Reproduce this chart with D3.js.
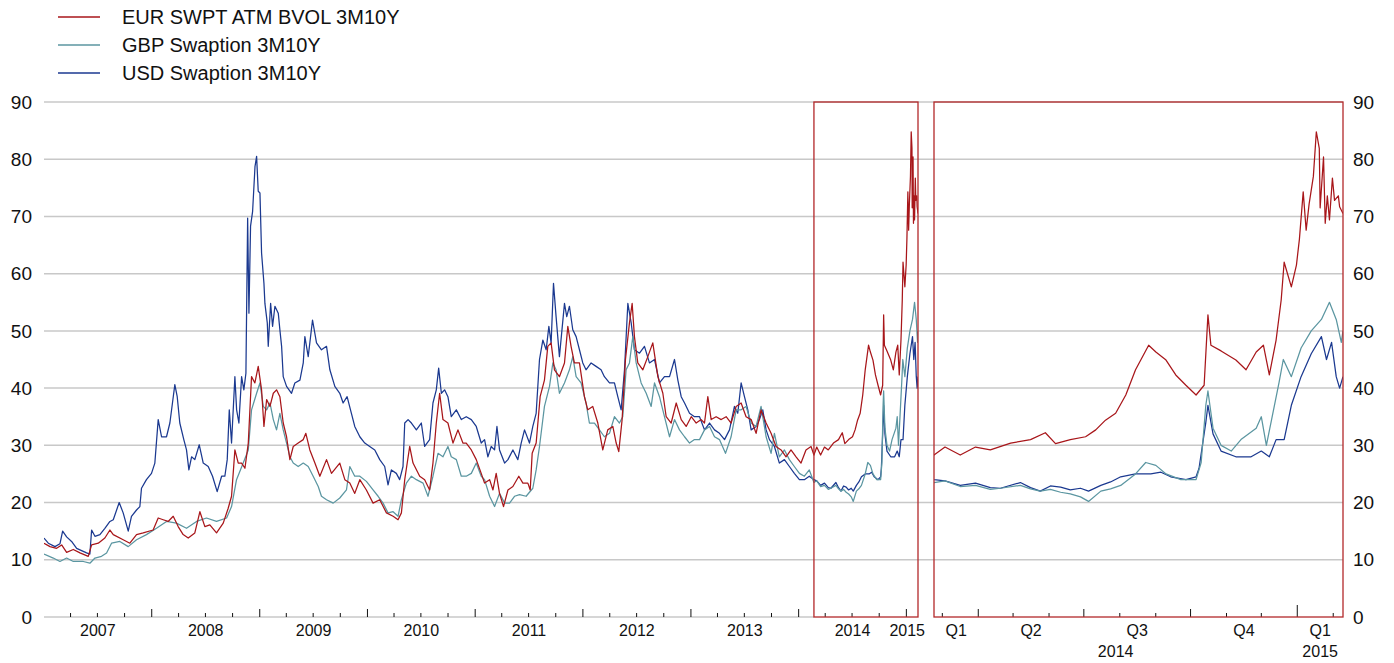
<!DOCTYPE html>
<html><head><meta charset="utf-8">
<script src="https://cdn.jsdelivr.net/npm/d3@7"></script>
<style>
html,body{margin:0;padding:0;background:#fff;}
svg{display:block;font-family:"Liberation Sans",Arial,sans-serif;}
</style></head>
<body><svg id="c" width="1394" height="663"></svg>
<script>
// ---- data (decimal year, value) ----
const seriesNames = ["EUR SWPT ATM BVOL 3M10Y","GBP Swaption 3M10Y","USD Swaption 3M10Y"];
const yTicks = [0,10,20,30,40,50,60,70,80,90];
const yearLabels = ["2007","2008","2009","2010","2011","2012","2013","2014","2015"];
const quarterLabels = ["Q1","Q2","Q3","Q4"];

const usdData = [
[2007.000,13.8],[2007.040,12.9],[2007.102,12.3],[2007.148,12.8],[2007.173,15.0],[2007.210,14.0],[2007.256,13.2],[2007.303,12.0],[2007.349,11.6],[2007.395,11.2],[2007.426,11.0],[2007.442,15.2],[2007.473,14.1],[2007.519,14.4],[2007.565,15.5],[2007.612,16.7],[2007.643,17.0],[2007.698,20.0],[2007.735,18.2],[2007.782,15.0],[2007.812,17.6],[2007.859,18.7],[2007.890,19.3],[2007.905,22.5],[2007.951,24.0],[2007.998,25.1],[2008.029,26.9],[2008.060,34.5],[2008.091,31.5],[2008.137,31.5],[2008.168,33.9],[2008.192,37.4],[2008.214,40.6],[2008.236,38.5],[2008.260,33.9],[2008.297,31.0],[2008.322,29.2],[2008.344,25.7],[2008.369,28.0],[2008.399,27.5],[2008.440,30.1],[2008.477,26.9],[2008.523,26.3],[2008.563,24.6],[2008.606,21.9],[2008.647,24.6],[2008.677,24.6],[2008.699,27.5],[2008.718,36.2],[2008.739,30.4],[2008.770,42.0],[2008.786,36.2],[2008.807,33.9],[2008.832,42.0],[2008.853,39.7],[2008.872,42.6],[2008.888,69.7],[2008.900,53.1],[2008.915,68.3],[2008.934,70.9],[2008.956,78.7],[2008.971,80.5],[2008.986,74.4],[2009.002,74.1],[2009.017,63.6],[2009.039,58.3],[2009.048,54.8],
[2009.070,51.4],[2009.079,47.3],[2009.101,54.8],[2009.119,50.8],[2009.141,54.3],[2009.172,53.1],[2009.187,50.2],[2009.203,47.3],[2009.218,42.0],[2009.249,40.3],[2009.295,39.1],[2009.326,40.9],[2009.373,41.4],[2009.404,44.4],[2009.419,49.0],[2009.450,45.5],[2009.490,51.9],[2009.527,47.9],[2009.573,46.7],[2009.620,47.3],[2009.651,43.2],[2009.697,40.3],[2009.743,39.1],[2009.774,37.4],[2009.811,38.5],[2009.851,35.6],[2009.882,33.3],[2009.929,31.5],[2009.975,30.4],[2010.021,29.8],[2010.068,29.2],[2010.114,27.5],[2010.160,26.3],[2010.191,23.1],[2010.222,25.7],[2010.268,25.1],[2010.299,24.0],[2010.330,26.3],[2010.346,33.9],[2010.377,34.5],[2010.408,33.9],[2010.454,32.7],[2010.500,33.9],[2010.531,29.8],[2010.577,31.0],[2010.608,37.4],[2010.639,39.7],[2010.661,43.5],[2010.686,39.1],[2010.716,39.7],[2010.747,38.5],[2010.778,35.0],[2010.825,36.2],[2010.871,34.5],[2010.917,35.0],[2010.964,34.5],[2011.010,33.3],[2011.056,30.4],[2011.087,31.0],
[2011.118,28.0],[2011.149,29.8],[2011.180,29.2],[2011.202,33.3],[2011.226,29.2],[2011.273,26.9],[2011.304,27.5],[2011.350,29.2],[2011.396,27.5],[2011.427,30.4],[2011.458,32.7],[2011.504,30.4],[2011.535,33.3],[2011.566,35.6],[2011.597,45.0],[2011.628,48.4],[2011.659,46.7],[2011.684,50.8],[2011.705,47.9],[2011.727,58.3],[2011.751,52.5],[2011.782,45.5],[2011.829,54.8],[2011.850,52.5],[2011.875,54.3],[2011.906,50.2],[2011.937,49.0],[2011.968,46.7],[2011.999,44.4],[2012.029,43.2],[2012.076,44.4],[2012.122,43.8],[2012.168,43.2],[2012.199,42.0],[2012.246,40.9],[2012.292,40.9],[2012.323,38.5],[2012.354,36.2],[2012.385,43.2],[2012.416,54.8],[2012.447,51.4],[2012.477,46.7],[2012.524,46.1],[2012.570,47.3],[2012.616,44.4],[2012.663,45.0],[2012.709,40.9],[2012.755,42.0],[2012.802,42.0],[2012.848,45.0],[2012.879,41.4],[2012.910,38.5],[2012.941,37.4],[2012.987,35.6],[2013.033,35.0],[2013.080,35.0],
[2013.126,32.7],[2013.173,33.9],[2013.219,32.7],[2013.265,32.1],[2013.312,31.0],[2013.358,32.7],[2013.404,36.8],[2013.435,35.6],[2013.466,40.9],[2013.497,38.5],[2013.528,36.2],[2013.559,32.7],[2013.605,33.3],[2013.636,34.5],[2013.667,36.2],[2013.698,32.7],[2013.729,31.0],[2013.775,29.8],[2013.821,26.9],[2013.868,27.5],[2013.914,26.3],[2013.960,25.1],[2014.007,24.0],[2014.053,24.0],[2014.099,24.6],
[2014.142,24.0],[2014.168,23.8],[2014.204,23.0],[2014.240,23.4],[2014.275,22.6],[2014.299,22.5],[2014.346,23.5],[2014.370,22.6],[2014.393,22.0],[2014.417,22.9],[2014.441,22.7],[2014.464,22.2],[2014.488,22.5],[2014.507,22.0],[2014.536,23.0],[2014.559,23.6],[2014.583,24.5],[2014.618,25.0],[2014.654,25.0],[2014.678,25.3],[2014.701,24.5],[2014.737,24.0],[2014.761,24.5],[2014.768,26.0],[2014.784,34.0],[2014.789,37.0],[2014.801,32.0],[2014.820,29.0],[2014.855,28.0],[2014.891,28.0],[2014.915,29.0],[2014.934,28.0],[2014.950,31.0],[2014.969,31.0],[2014.986,37.0],[2015.009,42.0],[2015.033,46.0],[2015.057,49.0],[2015.069,45.0],[2015.081,48.0],[2015.092,42.0],[2015.100,40.0],[2015.108,42.0]
];

const eurData = [
[2007.000,12.9],[2007.056,12.3],[2007.117,12.0],[2007.164,12.6],[2007.210,11.3],[2007.272,11.8],[2007.334,11.2],[2007.411,10.6],[2007.442,12.6],[2007.504,12.9],[2007.565,13.8],[2007.612,15.2],[2007.643,14.4],[2007.735,13.5],[2007.797,12.9],[2007.859,14.4],[2007.921,14.7],[2008.013,15.2],[2008.060,17.3],[2008.106,17.0],[2008.152,16.7],[2008.199,17.6],[2008.245,15.8],[2008.291,14.4],[2008.338,13.8],[2008.399,14.7],[2008.446,18.4],[2008.492,15.8],[2008.538,16.1],[2008.600,14.7],[2008.662,16.4],[2008.708,19.0],[2008.739,21.1],[2008.770,29.2],[2008.801,26.9],[2008.832,26.9],[2008.863,26.0],[2008.894,30.4],[2008.924,42.0],[2008.955,40.9],[2008.986,43.8],[2009.017,39.7],[2009.039,33.3],
[2009.064,38.0],[2009.095,36.8],[2009.126,39.1],[2009.156,39.7],[2009.187,38.5],[2009.218,33.9],[2009.249,31.5],[2009.280,27.5],[2009.311,29.8],[2009.357,30.4],[2009.404,31.0],[2009.428,32.1],[2009.465,29.2],[2009.512,26.9],[2009.558,24.6],[2009.620,27.5],[2009.666,25.1],[2009.743,26.9],[2009.790,24.0],[2009.836,23.4],[2009.882,21.6],[2009.929,24.0],[2009.990,22.2],[2010.052,19.9],[2010.114,20.5],[2010.176,18.2],[2010.238,17.6],[2010.284,17.0],[2010.315,18.2],[2010.346,24.0],[2010.392,29.8],[2010.423,26.9],[2010.485,24.6],[2010.531,24.0],[2010.577,22.2],[2010.608,26.9],[2010.639,33.9],[2010.670,39.1],[2010.701,34.5],[2010.747,33.9],[2010.794,30.4],[2010.840,32.7],[2010.886,30.4],[2010.917,30.4],[2010.964,29.2],[2011.010,27.5],[2011.056,25.1],[2011.087,23.4],
[2011.134,24.0],[2011.165,22.2],[2011.195,25.1],[2011.226,21.6],[2011.263,19.3],[2011.304,22.2],[2011.350,22.8],[2011.405,24.6],[2011.443,23.4],[2011.489,23.4],[2011.511,22.2],[2011.529,28.6],[2011.566,30.4],[2011.603,38.5],[2011.643,41.4],[2011.674,47.3],[2011.705,47.9],[2011.736,43.2],[2011.782,42.0],[2011.829,44.4],[2011.860,50.8],[2011.890,47.3],[2011.921,44.4],[2011.968,44.4],[2012.014,38.5],[2012.045,36.2],[2012.091,36.8],[2012.138,33.9],[2012.184,29.2],[2012.230,32.7],[2012.277,33.3],[2012.308,30.4],[2012.332,28.9],[2012.363,34.5],[2012.394,45.0],[2012.431,51.4],[2012.456,54.8],[2012.477,49.0],[2012.508,44.4],[2012.555,43.2],[2012.601,45.5],[2012.647,47.9],[2012.694,42.0],[2012.740,39.1],[2012.771,35.0],[2012.817,33.9],[2012.864,37.4],[2012.910,34.5],[2012.956,33.3],[2013.003,35.0],[2013.049,33.9],[2013.095,34.5],
[2013.126,33.9],[2013.157,38.5],[2013.188,34.5],[2013.234,35.0],[2013.281,34.5],[2013.327,35.0],[2013.373,33.9],[2013.420,36.8],[2013.466,37.4],[2013.512,35.0],[2013.559,34.5],[2013.605,32.1],[2013.651,36.2],[2013.698,33.9],[2013.744,32.1],[2013.790,29.8],[2013.837,29.2],[2013.883,28.0],[2013.929,29.2],[2013.976,28.0],[2014.022,26.9],[2014.068,29.2],[2014.115,29.8],
[2014.142,28.3],[2014.168,29.7],[2014.204,28.3],[2014.240,29.7],[2014.275,29.2],[2014.323,30.4],[2014.370,31.0],[2014.405,32.2],[2014.429,30.3],[2014.464,31.0],[2014.500,31.5],[2014.524,32.7],[2014.547,34.4],[2014.571,35.6],[2014.595,38.8],[2014.618,43.2],[2014.649,47.5],[2014.666,46.3],[2014.690,44.9],[2014.713,42.3],[2014.737,40.5],[2014.761,38.8],[2014.780,40.5],[2014.789,52.8],[2014.796,47.5],[2014.820,46.5],[2014.855,44.9],[2014.879,43.2],[2014.903,46.3],[2014.920,47.5],[2014.934,42.3],[2014.950,48.4],[2014.962,55.4],[2014.969,62.0],[2014.986,57.7],[2014.998,61.5],[2015.005,66.0],[2015.014,74.3],[2015.021,67.6],[2015.028,72.2],[2015.038,77.0],[2015.045,84.8],[2015.052,81.9],[2015.054,71.5],[2015.062,80.4],[2015.066,68.8],[2015.071,73.6],[2015.076,69.4],[2015.083,76.7],[2015.088,72.8],[2015.097,73.6],[2015.100,71.7],[2015.108,70.5]
];

const gbpData = [
[2007.000,11.0],[2007.086,10.3],[2007.148,9.7],[2007.210,10.3],[2007.272,9.7],[2007.365,9.7],[2007.426,9.4],[2007.473,10.3],[2007.534,10.6],[2007.581,11.2],[2007.627,12.9],[2007.704,13.2],[2007.782,12.3],[2007.859,13.5],[2007.951,14.4],[2008.044,15.5],[2008.137,16.7],[2008.229,16.4],[2008.322,15.5],[2008.415,16.7],[2008.507,17.3],[2008.600,16.7],[2008.693,17.3],[2008.739,19.3],[2008.785,24.0],[2008.847,26.9],[2008.894,29.2],[2008.924,36.2],[2008.971,39.1],[2009.002,40.9],[2009.033,36.8],
[2009.064,36.2],[2009.095,37.4],[2009.126,34.5],[2009.156,32.7],[2009.187,35.6],[2009.218,32.7],[2009.249,30.4],[2009.280,28.0],[2009.311,26.9],[2009.357,26.3],[2009.404,26.9],[2009.450,26.3],[2009.496,24.6],[2009.543,22.8],[2009.573,21.1],[2009.620,20.5],[2009.682,19.9],[2009.743,20.8],[2009.805,22.2],[2009.836,26.3],[2009.882,24.6],[2009.929,24.6],[2009.990,23.7],[2010.052,22.2],[2010.099,21.1],[2010.145,19.9],[2010.191,18.2],[2010.238,18.4],[2010.284,17.6],[2010.315,20.5],[2010.361,23.4],[2010.408,24.6],[2010.454,24.0],[2010.516,23.4],[2010.562,21.1],[2010.608,24.6],[2010.655,28.6],[2010.701,28.0],[2010.747,29.8],[2010.778,28.0],[2010.825,27.5],[2010.871,24.6],[2010.917,24.6],[2010.964,25.1],[2011.010,26.9],[2011.056,24.6],[2011.087,24.0],
[2011.134,21.1],[2011.180,19.3],[2011.226,21.6],[2011.273,19.9],[2011.319,19.9],[2011.365,21.1],[2011.412,21.4],[2011.473,21.1],[2011.535,22.5],[2011.566,25.7],[2011.597,29.8],[2011.643,36.8],[2011.690,40.3],[2011.721,44.4],[2011.751,43.2],[2011.782,39.1],[2011.829,40.9],[2011.875,43.2],[2011.906,45.5],[2011.937,42.0],[2011.983,40.9],[2012.029,37.4],[2012.060,33.9],[2012.107,33.9],[2012.153,32.7],[2012.199,31.5],[2012.246,32.1],[2012.292,35.0],[2012.338,33.9],[2012.369,35.0],[2012.400,43.2],[2012.431,44.4],[2012.462,49.0],[2012.493,44.4],[2012.539,40.9],[2012.586,39.1],[2012.632,36.8],[2012.663,40.9],[2012.709,38.5],[2012.755,35.0],[2012.802,31.5],[2012.848,34.5],[2012.894,32.7],[2012.941,31.5],[2012.987,30.4],[2013.033,31.0],[2013.080,31.0],
[2013.126,32.7],[2013.173,33.3],[2013.219,31.5],[2013.265,31.0],[2013.321,28.6],[2013.373,31.5],[2013.420,36.2],[2013.466,36.2],[2013.512,36.8],[2013.559,33.9],[2013.605,33.3],[2013.651,36.8],[2013.698,31.5],[2013.744,28.6],[2013.775,32.1],[2013.821,28.0],[2013.868,29.2],[2013.914,27.5],[2013.960,26.3],[2014.007,25.1],[2014.053,24.6],[2014.099,25.7],
[2014.142,23.5],[2014.168,23.8],[2014.204,22.8],[2014.240,23.0],[2014.275,22.3],[2014.299,22.5],[2014.346,23.0],[2014.370,22.4],[2014.393,22.0],[2014.417,22.3],[2014.441,21.8],[2014.464,21.5],[2014.488,21.0],[2014.507,20.2],[2014.536,22.0],[2014.559,22.4],[2014.583,23.0],[2014.618,25.0],[2014.642,27.0],[2014.666,26.5],[2014.690,25.0],[2014.725,24.0],[2014.761,24.0],[2014.773,27.0],[2014.784,37.0],[2014.789,39.5],[2014.801,33.0],[2014.820,30.0],[2014.844,29.0],[2014.867,31.0],[2014.903,33.0],[2014.915,35.0],[2014.927,30.0],[2014.938,34.0],[2014.957,41.0],[2014.967,45.0],[2014.986,42.0],[2015.009,47.0],[2015.033,50.0],[2015.057,52.0],[2015.076,55.0],[2015.092,52.0],[2015.104,48.0],[2015.108,50.0]
];

const colors = ["#a8161a","#5b96a1","#1b3990"];
const allSeries = [usdData, gbpData, eurData];
const drawColors = [colors[2], colors[1], colors[0]];

// ---- helpers ----
function dy(t){ const y=Math.floor(t); const s=Date.UTC(y,0,1), e=Date.UTC(y+1,0,1); return new Date(s+(t-y)*(e-s)); }

const svg = d3.select("#c");
const W = 1394, H = 663;
const yScale = d3.scaleLinear().domain([0,90]).range([617,102]);
const xL = d3.scaleUtc().domain([dy(2007), dy(2015.108)]).range([44, 918]);
const xR = d3.scaleUtc().domain([dy(2014.142), dy(2015.108)]).range([934, 1343]);
const boxStart = dy(2014.142);
const red = "#b3282a";

// gridlines
const gridX0 = xL.range()[0], gridX1 = xR.range()[1];
svg.append("g").selectAll("line").data(yTicks.filter(d=>d>0)).join("line")
  .attr("x1", gridX0).attr("x2", gridX1)
  .attr("y1", d=>yScale(d)).attr("y2", d=>yScale(d))
  .attr("stroke","#c8c8c8").attr("stroke-width",1.5);
// baseline (left panel)
svg.append("line").attr("x1",gridX0).attr("x2",xL(boxStart)).attr("y1",yScale(0)).attr("y2",yScale(0))
  .attr("stroke","#c8c8c8").attr("stroke-width",1.5);

// y labels
svg.append("g").selectAll("text").data(yTicks).join("text")
  .attr("x", 32).attr("y", d=>yScale(d)).attr("dy","0.35em")
  .attr("text-anchor","end").attr("font-size",19).attr("fill","#111").text(d=>d);
svg.append("g").selectAll("text").data(yTicks).join("text")
  .attr("x", 1353).attr("y", d=>yScale(d)).attr("dy","0.35em")
  .attr("text-anchor","start").attr("font-size",19).attr("fill","#111").text(d=>d);

// clip paths
const defs = svg.append("defs");
defs.append("clipPath").attr("id","clipL").append("rect")
  .attr("x",xL.range()[0]).attr("y",0).attr("width",xL.range()[1]-xL.range()[0]).attr("height",H);
defs.append("clipPath").attr("id","clipR").append("rect")
  .attr("x",xR.range()[0]).attr("y",0).attr("width",xR.range()[1]-xR.range()[0]).attr("height",H);

function drawLines(xs, clip){
  const g = svg.append("g").attr("clip-path",`url(#${clip})`);
  allSeries.forEach((s,i)=>{
    const line = d3.line().x(d=>xs(dy(d[0]))).y(d=>yScale(d[1]));
    g.append("path").datum(s).attr("d",line).attr("fill","none")
      .attr("stroke",drawColors[i]).attr("stroke-width",1.25).attr("stroke-linejoin","round");
  });
}
drawLines(xL,"clipL");
drawLines(xR,"clipR");

// ticks left panel (quarterly, taller on years)
const qL = d3.utcMonth.every(3).range(dy(2007), dy(2015.108));
svg.append("g").selectAll("line").data(qL.filter(d=>+d>+dy(2007))).join("line")
  .attr("x1",d=>xL(d)).attr("x2",d=>xL(d))
  .attr("y1",yScale(0)).attr("y2",d=>yScale(0)-(d.getUTCMonth()===0?8:4))
  .attr("stroke","#111").attr("stroke-width",1);
// ticks right panel (monthly, quarter, year)
const mR = d3.utcMonth.range(dy(2014.142), dy(2015.108));
svg.append("g").selectAll("line").data(mR).join("line")
  .attr("x1",d=>xR(d)).attr("x2",d=>xR(d))
  .attr("y1",yScale(0)).attr("y2",d=>yScale(0)-(d.getUTCMonth()===0?12:(d.getUTCMonth()%3===0?8:4)))
  .attr("stroke","#111").attr("stroke-width",1);

// boxes
svg.append("rect").attr("x",xL(boxStart)).attr("y",yScale(90))
  .attr("width",xL.range()[1]-xL(boxStart)).attr("height",yScale(0)-yScale(90))
  .attr("fill","none").attr("stroke",red).attr("stroke-width",1.3);
svg.append("rect").attr("x",xR.range()[0]).attr("y",yScale(90))
  .attr("width",xR.range()[1]-xR.range()[0]).attr("height",yScale(0)-yScale(90))
  .attr("fill","none").attr("stroke",red).attr("stroke-width",1.3);

// year labels left
const [d0,d1] = xL.domain();
const yl = svg.append("g");
yearLabels.forEach(lbl=>{
  const y = +lbl;
  const a = Math.max(+Date.UTC(y,0,1), +d0), b = Math.min(+Date.UTC(y+1,0,1), +d1);
  let cx = (xL(new Date(a)) + xL(new Date(b)))/2;
  const t = yl.append("text").attr("y",636).attr("text-anchor","middle").attr("font-size",16).attr("fill","#111").text(lbl);
  const w = t.node().getComputedTextLength();
  if (cx + w/2 > xL.range()[1] + 7) cx = xL.range()[1] + 7 - w/2;
  t.attr("x",cx);
});
// quarter labels right
const [r0,r1] = xR.domain();
const qs = d3.utcMonth.every(3).range(d3.utcMonth.every(3).floor(r0), r1);
svg.append("g").selectAll("text").data(qs).join("text")
  .attr("x", d=>{ const a=Math.max(+d,+r0); const e=d3.utcMonth.offset(d,3); const b=Math.min(+e,+r1); return (xR(new Date(a))+xR(new Date(b)))/2; })
  .attr("y",636).attr("text-anchor","middle").attr("font-size",16).attr("fill","#111")
  .text(d=>quarterLabels[Math.floor(d.getUTCMonth()/3)]);
// year labels right
const yrsR = ["2014","2015"];
svg.append("g").selectAll("text").data(yrsR).join("text")
  .attr("x", l=>{ const y=+l; const a=Math.max(Date.UTC(y,0,1),+r0), b=Math.min(Date.UTC(y+1,0,1),+r1); return (xR(new Date(a))+xR(new Date(b)))/2; })
  .attr("y",657).attr("text-anchor","middle").attr("font-size",16).attr("fill","#111").text(d=>d);

// legend
const lg = svg.append("g");
seriesNames.forEach((n,i)=>{
  const yy = 17 + i*28;
  lg.append("line").attr("x1",58).attr("x2",100).attr("y1",yy).attr("y2",yy).attr("stroke",colors[i]).attr("stroke-width",1.3);
  lg.append("text").attr("x",122).attr("y",yy).attr("dy","0.35em").attr("font-size",20).attr("fill","#111").text(n);
});
</script></body></html>
